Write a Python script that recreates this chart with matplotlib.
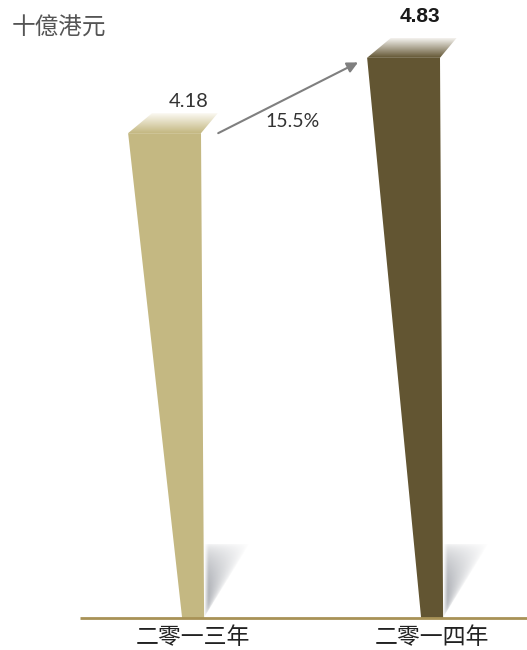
import matplotlib.pyplot as plt
import numpy as np
from matplotlib.colors import to_rgb
from matplotlib.patches import Polygon

# --- data ---
years = ["二零一三年", "二零一四年"]
values = [4.18, 4.83]
growth_label = "15.5%"
unit_label = "十億港元"

# --- style ---
bar_colors = ["#C4B882", "#625532"]
top_light = ["#FBF9F2", "#F4F2EE"]
label_bold = [False, True]
base_color = "#A89256"
text_color = "#333333"

plt.rcParams["font.family"] = ["Noto Sans CJK TC", "DejaVu Sans"]

fig = plt.figure(figsize=(5.27, 6.5), dpi=100)
ax = fig.add_axes([0, 0, 1, 1])
ax.set_xlim(-0.808, 1.397)
ax.set_ylim(-0.276, 5.328)
ax.axis("off")

# tapered bar shape (in data units, relative to the bar centre)
top_l, top_r = -0.272, 0.033
bot_half = 0.046
back_l, back_r, depth = 0.10, 0.07, 0.172


def gradient_fill(poly, c_top, c_bot, extent, zorder=2):
    n = 64
    t = np.linspace(0, 1, n)[:, None]
    c0, c1 = np.array(to_rgb(c_top)), np.array(to_rgb(c_bot))
    rgb = c0 + (c1 - c0) * t[..., None]
    img = np.ones((n, 2, 4))
    img[..., :3] = np.repeat(rgb, 2, axis=1)
    im = ax.imshow(img, extent=extent, origin="upper", aspect="auto",
                   interpolation="bilinear", zorder=zorder)
    patch = Polygon(poly, closed=True, facecolor="none", edgecolor="none")
    ax.add_patch(patch)
    im.set_clip_path(patch)


for i, (v, col) in enumerate(zip(values, bar_colors)):
    c = i
    # soft shadow to the right of the foot
    sx0, sw, sh = c + bot_half, 0.19, 0.64
    ny, nx = 100, 80
    yy, xx = np.mgrid[0:ny, 0:nx]
    yn = 1 - yy / (ny - 1)  # 0 bottom -> 1 top
    xn = xx / (nx - 1)
    a = np.clip(1 - xn / np.maximum(yn, 1e-3), 0, 1) ** 0.6
    a *= (1 - yn) ** 0.5 * np.clip(xn * 10, 0, 1) * 0.8
    sh_img = np.zeros((ny, nx, 4))
    sh_img[..., :3] = to_rgb("#6E737D")
    sh_img[..., 3] = np.clip(a, 0, 1)
    im = ax.imshow(sh_img, extent=[sx0, sx0 + sw, 0, sh], origin="upper",
                   aspect="auto", interpolation="bilinear", zorder=1)
    tri = Polygon([(sx0, 0), (sx0, sh), (sx0 + sw, sh)], closed=True,
                  facecolor="none", edgecolor="none")
    ax.add_patch(tri)
    im.set_clip_path(tri)

    # body
    body = [(c - bot_half, 0), (c + bot_half, 0), (c + top_r, v), (c + top_l, v)]
    ax.add_patch(Polygon(body, closed=True, facecolor=col, edgecolor="none", zorder=2))

    # top face
    top = [(c + top_l, v), (c + top_r, v),
           (c + top_r + back_r, v + depth), (c + top_l + back_l, v + depth)]
    gradient_fill(top, top_light[i], col,
                  [c + top_l, c + top_r + back_r, v, v + depth], zorder=3)

    # value label
    if label_bold[i]:
        ax.text(c - 0.05, v + 0.27, f"{v:.2f}", ha="center", va="bottom",
                fontsize=15, fontweight="bold", color="#1A1A1A",
                family=["Liberation Sans", "DejaVu Sans"])
    else:
        ax.text(c - 0.02, v + 0.20, f"{v:.2f}", ha="center", va="bottom",
                fontsize=14.5, color=text_color, family=["Lato", "DejaVu Sans"])

    # category label
    ax.text(c, -0.17, years[i], ha="center", va="center", fontsize=16.5,
            color="#222222")

# base line
ax.hlines(0, -0.473, 1.397, color=base_color, lw=2, zorder=4)

# growth arrow
x0, y0 = 0 + 0.105, values[0]
x1, y1 = 1 - 0.31, values[1] - 0.04
ax.annotate("", xy=(x1, y1), xytext=(x0, y0),
            arrowprops=dict(arrowstyle="-|>", color="#7F7F7F", lw=1.5,
                            mutation_scale=16, shrinkA=0, shrinkB=0))
ax.text((x0 + x1) / 2 + 0.02, values[0] + 0.1, growth_label, ha="center",
        va="center", fontsize=14, color=text_color,
        family=["Lato", "DejaVu Sans"])

fig.text(0.022, 0.957, unit_label, ha="left", va="center", fontsize=17,
         color="#555555")

fig.savefig("out.png", dpi=100)
